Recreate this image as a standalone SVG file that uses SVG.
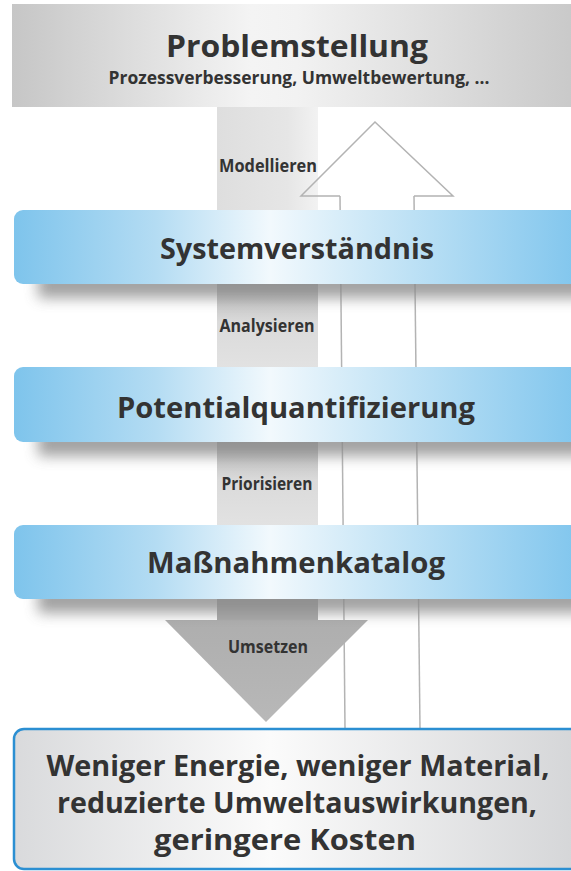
<svg xmlns="http://www.w3.org/2000/svg" width="571" height="871" viewBox="0 0 571 871">
  <defs>
    <linearGradient id="greyBand" x1="0" y1="0" x2="1" y2="0">
      <stop offset="0" stop-color="#c6c6c6"/>
      <stop offset="0.42" stop-color="#f4f4f4"/>
      <stop offset="0.5" stop-color="#f2f2f2"/>
      <stop offset="1" stop-color="#c8c8c8"/>
    </linearGradient>
    <linearGradient id="blueBand" x1="0" y1="0" x2="1" y2="0">
      <stop offset="0" stop-color="#7ec4ec"/>
      <stop offset="0.25" stop-color="#b4dcf3"/>
      <stop offset="0.45" stop-color="#f2f9fd"/>
      <stop offset="0.62" stop-color="#cde8f7"/>
      <stop offset="1" stop-color="#7fc5ed"/>
    </linearGradient>
    <linearGradient id="resultFill" x1="0" y1="0" x2="1" y2="0">
      <stop offset="0" stop-color="#d9dadc"/>
      <stop offset="0.45" stop-color="#fbfbfb"/>
      <stop offset="1" stop-color="#d4d5d7"/>
    </linearGradient>
    <linearGradient id="column" x1="0" y1="0" x2="0" y2="1">
      <stop offset="0" stop-color="#b4b4b4"/>
      <stop offset="0.45" stop-color="#dadada"/>
      <stop offset="1" stop-color="#e2e2e2"/>
    </linearGradient>
    <linearGradient id="columnTop" x1="0" y1="0" x2="1" y2="0">
      <stop offset="0" stop-color="#dedede"/>
      <stop offset="0.7" stop-color="#e6e6e6"/>
      <stop offset="1" stop-color="#f2f2f2"/>
    </linearGradient>
    <linearGradient id="downHead" x1="0" y1="0" x2="0" y2="1">
      <stop offset="0" stop-color="#aeaeae"/>
      <stop offset="1" stop-color="#b8b8b8"/>
    </linearGradient>
    <filter id="soft" x="-10%" y="-100%" width="120%" height="300%">
      <feGaussianBlur stdDeviation="7"/>
    </filter>
    <style>
      text { font-family: "Open Sans", "DejaVu Sans", sans-serif; font-weight: bold; fill: #333333; text-anchor: middle; }
      .title { font-size: 31px; }
      .sub { font-size: 17px; }
      .verb { font-size: 17px; }
      .step { font-size: 29px; }
      .result { font-size: 29px; }
      .shadow { fill: #8a8a8a; opacity: 0.8; filter: url(#soft); }
      .band { fill: url(#blueBand); }
      .col { fill: url(#column); }
      .outline { fill: none; stroke: #b3b3b3; stroke-width: 1.5; }
    </style>
  </defs>

  <!-- background -->
  <rect x="0" y="0" width="571" height="871" fill="#ffffff"/>

  <!-- central grey column behind the steps -->
  <g id="column">
    <rect x="217" y="106" width="101" height="106" fill="url(#columnTop)"/>
    <rect class="col" x="217" y="284" width="101" height="84"/>
    <rect class="col" x="217" y="442" width="101" height="84"/>
    <rect x="217" y="599" width="101" height="22" fill="#a9a9a9"/>
  </g>

  <g id="connectors">
    <!-- hollow upward arrow (feedback) -->
    <path class="outline" d="M340 196 H301 L375 122 L453 196 H414"/>
    <line class="outline" x1="340" y1="196" x2="345" y2="728"/>
    <line class="outline" x1="414" y1="196" x2="420" y2="728"/>
    <!-- solid downward arrow head -->
    <polygon points="165,620 368,620 266,722" fill="url(#downHead)"/>
  </g>

  <!-- step labels on the column -->
  <g id="labels">
    <text class="verb" x="268" y="172" textLength="98" lengthAdjust="spacingAndGlyphs">Modellieren</text>
    <text class="verb" x="267" y="332" textLength="95" lengthAdjust="spacingAndGlyphs">Analysieren</text>
    <text class="verb" x="267" y="490" textLength="91" lengthAdjust="spacingAndGlyphs">Priorisieren</text>
    <text class="verb" x="268" y="653" textLength="80" lengthAdjust="spacingAndGlyphs">Umsetzen</text>
  </g>

  <g id="problemstellung">
    <rect x="12" y="4" width="570" height="103" fill="url(#greyBand)"/>
    <text class="title" x="297" y="57" textLength="262" lengthAdjust="spacingAndGlyphs">Problemstellung</text>
    <text class="sub" x="299" y="84" textLength="381" lengthAdjust="spacingAndGlyphs">Prozessverbesserung, Umweltbewertung, ...</text>
  </g>

  <g id="systemverstaendnis">
    <rect class="shadow" x="38" y="272" width="560" height="26"/>
    <rect class="band" x="14" y="210" width="570" height="74" rx="9"/>
    <text class="step" x="297" y="259" textLength="274" lengthAdjust="spacingAndGlyphs">Systemverständnis</text>
  </g>

  <g id="potentialquantifizierung">
    <rect class="shadow" x="38" y="430" width="560" height="26"/>
    <rect class="band" x="14" y="367" width="570" height="75" rx="9"/>
    <text class="step" x="296" y="418" textLength="358" lengthAdjust="spacingAndGlyphs">Potentialquantifizierung</text>
  </g>

  <g id="massnahmenkatalog">
    <rect class="shadow" x="38" y="587" width="560" height="26"/>
    <rect class="band" x="14" y="525" width="570" height="74" rx="9"/>
    <text class="step" x="296" y="573" textLength="298" lengthAdjust="spacingAndGlyphs">Maßnahmenkatalog</text>
  </g>

  <g id="ergebnis">
    <rect x="14" y="729" width="570" height="140" rx="10" fill="url(#resultFill)" stroke="#2b8fd2" stroke-width="2.5"/>
    <text class="result" x="298" y="776" textLength="503" lengthAdjust="spacingAndGlyphs">Weniger Energie, weniger Material,</text>
    <text class="result" x="297" y="813" textLength="480" lengthAdjust="spacingAndGlyphs">reduzierte Umweltauswirkungen,</text>
    <text class="result" x="285" y="850" textLength="262" lengthAdjust="spacingAndGlyphs">geringere Kosten</text>
  </g>
</svg>
